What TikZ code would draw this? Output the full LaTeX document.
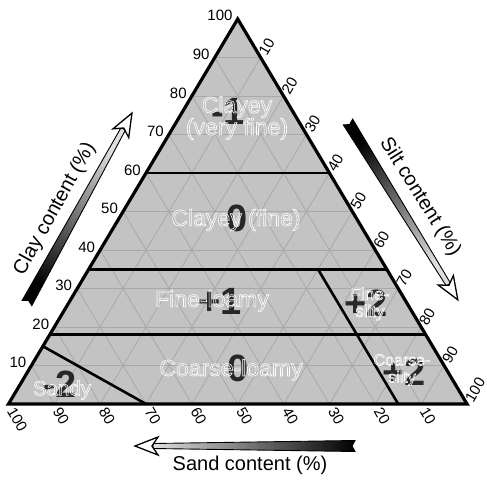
\documentclass[tikz,border=0pt]{standalone}
\usepackage{fontspec}
\setmainfont{Liberation Sans}
\usetikzlibrary{calc}
\definecolor{fillgray}{RGB}{195,195,195}
\definecolor{gridgray}{RGB}{168,168,168}
\definecolor{numdark}{RGB}{40,40,40}
\newcommand\hollowtext[1]{\special{pdf:literal direct 1 Tr 0.6 w}#1\special{pdf:literal direct 0 Tr}}
\newcommand\gradarrowdraw[4]{%
\begin{scope}[shift={(#1)}, rotate=#2]
  \shade[draw=black, line width=0.9pt, top color=gray!25, bottom color=black, shading angle=#4]
   (0pt,5.5pt) -- (#3pt-18pt,2.5pt) -- (#3pt-18pt,-2.5pt) -- (0pt,-5.5pt) -- (3pt,0pt) -- cycle;
  \filldraw[fill=white, draw=black, line width=1.3pt, line join=miter]
   (#3pt,0pt) -- (#3pt-23pt,9pt) -- (#3pt-17pt,0pt) -- (#3pt-23pt,-9pt) -- cycle;
\end{scope}}
\begin{document}
\begin{tikzpicture}[x=1pt,y=-1pt,
  axisnum/.style={font=\fontsize{15}{16}\selectfont, inner sep=0pt},
  region/.style={font=\fontsize{23}{22}\selectfont, text=white, align=center, inner sep=0pt},
  smallregion/.style={font=\fontsize{17}{17}\selectfont, text=white, align=center, inner sep=0pt},
  bignum/.style={font=\fontsize{38}{38}\selectfont\bfseries, text=numdark, inner sep=0pt},
  boundary/.style={line width=2.6pt},
  gridline/.style={draw=gridgray, line width=0.8pt},
  arrtitle/.style={font=\fontsize{20}{22}\selectfont, inner sep=0pt}]
\useasboundingbox (0,0) rectangle (487,481);
\coordinate (L) at (8.5,404);
\coordinate (R) at (467,404);
\coordinate (A) at (237.7,19);
\fill[fillgray] (L) -- (R) -- (A) -- cycle;
\foreach \k in {1,...,9}{
  \pgfmathsetmacro\a{\k/10}
  \pgfmathsetmacro\b{1-\k/10}
  \draw[gridline] (barycentric cs:L=\b,A=\a) -- (barycentric cs:R=\b,A=\a);
  \draw[gridline] (barycentric cs:L=\a,R=\b) -- (barycentric cs:L=\a,A=\b);
  \draw[gridline] (barycentric cs:R=\a,L=\b) -- (barycentric cs:R=\a,A=\b);
}
% big numbers
\node[bignum] (n1) at (228,111) {-1};
\node[bignum] (n2) at (237,218) {0};
\node[bignum] (n3) at (220,301) {+1};
\node[bignum] (n4) at (238,368) {0};
\node[bignum] (n5) at (60,384) {-2};
\node[bignum] (n6) at (366,303) {+2};
\node[bignum] (n7) at (404,372) {+2};
% boundaries
\draw[boundary] (barycentric cs:L=0.4,A=0.6) -- (barycentric cs:R=0.4,A=0.6);
\draw[boundary] (barycentric cs:L=0.65,A=0.35) -- (barycentric cs:R=0.65,A=0.35);
\draw[boundary] (barycentric cs:L=0.82,A=0.18) -- (barycentric cs:R=0.82,A=0.18);
\draw[boundary] (barycentric cs:L=0.85,A=0.15) -- (barycentric cs:L=0.7,R=0.3);
\draw[boundary] (barycentric cs:L=0.15,R=0.5,A=0.35) -- (barycentric cs:L=0.15,R=0.85);
\draw[line width=3.2pt, line join=miter] (L) -- (R) -- (A) -- cycle;
% region labels
\node[region] (r1) at (237,118) {\hollowtext{Clayey\\(very fine)}};
\node[region] (r2) at (236,220) {\hollowtext{Clayey (fine)}};
\node[region] (r3) at (212,301) {\hollowtext{Fine-loamy}};
\node[region] (r4) at (231,370) {\hollowtext{Coarse-loamy}};
\node[region, font=\fontsize{20.5}{20}\selectfont] (r5) at (62,390) {\hollowtext{Sandy}};
\node[smallregion] (r6) at (370,304) {\hollowtext{Fine-\\silty}};
\node[smallregion, font=\fontsize{16}{17}\selectfont] (r7) at (402,370) {\hollowtext{Coarse-\\silty}};
% axis numbers
\foreach \k in {1,...,10}{
  \pgfmathsetmacro\a{\k/10}
  \pgfmathsetmacro\b{1-\k/10}
  \pgfmathtruncatemacro\n{10*\k}
  \node[axisnum, anchor=base east] (clay\k) at ($(barycentric cs:L=\b,A=\a)+(-5pt,-2pt)$) {\n};
  \node[axisnum, rotate=60, anchor=west] (silt\k) at ($(barycentric cs:R=\a,A=\b)+(60:3.5pt)$) {\n};
  \node[axisnum, rotate=-60, anchor=west] (sand\k) at ($(barycentric cs:L=\a,R=\b)+(-60:5pt)$) {\n};
}
% arrows
\coordinate (claytail) at (27,303);
\coordinate (silttail) at (348,122);
\coordinate (sandtail) at (355,446);
\gradarrowdraw{claytail}{61.07}{217}{-29}
\gradarrowdraw{silttail}{-58.3}{209}{-148.3}
\gradarrowdraw{sandtail}{180}{220}{90}
\node[arrtitle, rotate=61] (claytitle) at (55,209) {Clay content (\%)};
\node[arrtitle, rotate=-58] (silttitle) at (420,197) {Silt content (\%)};
\node[arrtitle] (sandtitle) at (250,465) {Sand content (\%)};
\end{tikzpicture}
\end{document}
